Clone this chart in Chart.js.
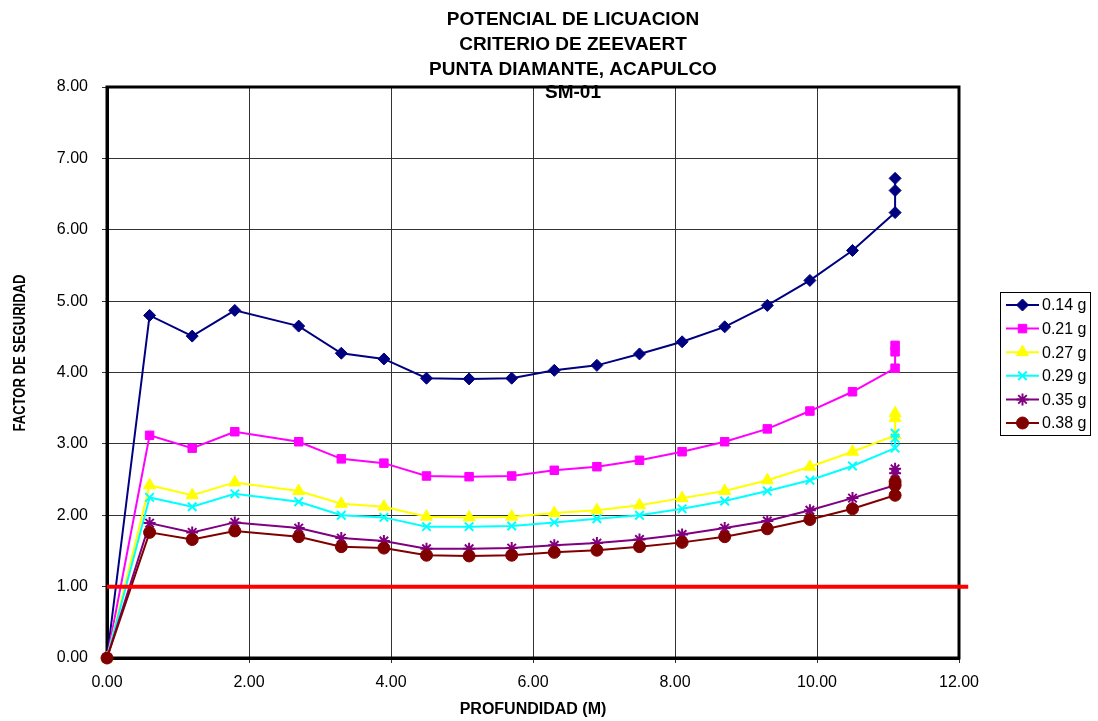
<!DOCTYPE html>
<html>
<head>
<meta charset="utf-8">
<script src="https://cdn.jsdelivr.net/npm/chart.js@4/dist/chart.umd.min.js"></script>
<style>
  html, body { margin: 0; padding: 0; background: #fff; }
  #wrap { width: 1098px; height: 721px; }
</style>
</head>
<body>
<div id="wrap"><canvas id="chart" width="1098" height="721"></canvas></div>
<script>
  // profundidad (m); three readings at the last depth
  var depth = [0, 0.6, 1.2, 1.8, 2.7, 3.3, 3.9, 4.5, 5.1, 5.7, 6.3, 6.9, 7.5, 8.1, 8.7, 9.3, 9.9, 10.5, 11.1, 11.1, 11.1];

  var fs014 = [0, 4.80, 4.51, 4.87, 4.65, 4.27, 4.19, 3.92, 3.91, 3.92, 4.03, 4.10, 4.26, 4.43, 4.64, 4.94, 5.29, 5.71, 6.24, 6.55, 6.72];
  var fs021 = [0, 3.12, 2.94, 3.17, 3.03, 2.79, 2.73, 2.55, 2.54, 2.55, 2.63, 2.68, 2.77, 2.89, 3.03, 3.21, 3.46, 3.73, 4.06, 4.29, 4.38];
  var fs027 = [0, 2.42, 2.28, 2.46, 2.34, 2.16, 2.12, 1.98, 1.97, 1.98, 2.03, 2.07, 2.14, 2.24, 2.34, 2.49, 2.68, 2.89, 3.12, 3.36, 3.43];
  var fs029 = [0, 2.25, 2.12, 2.30, 2.19, 2.00, 1.97, 1.84, 1.84, 1.85, 1.90, 1.95, 2.00, 2.09, 2.20, 2.34, 2.49, 2.69, 2.94, 3.08, 3.15];
  var fs035 = [0, 1.89, 1.76, 1.90, 1.82, 1.68, 1.64, 1.53, 1.53, 1.54, 1.58, 1.61, 1.66, 1.73, 1.82, 1.92, 2.07, 2.24, 2.42, 2.59, 2.65];
  var fs038 = [0, 1.76, 1.66, 1.78, 1.70, 1.56, 1.54, 1.44, 1.43, 1.44, 1.48, 1.51, 1.56, 1.62, 1.70, 1.81, 1.94, 2.09, 2.28, 2.42, 2.47];

  var seriesLabels = ["0.14 g", "0.21 g", "0.27 g", "0.29 g", "0.35 g", "0.38 g"];
  var seriesValues = [fs014, fs021, fs027, fs029, fs035, fs038];
  var seriesColors = ["#000080", "#ff00ff", "#ffff00", "#00ffff", "#800080", "#800000"];
  var seriesMarkers = ["rectRot", "rect", "triangle", "crossRot", "star", "circle"];
  var seriesRadius = [6, 6, 7, 6, 6, 6];

  // linea de referencia FS = 1
  var limitX = [0, 12.13];
  var limitY = [1, 1];

  var titleLines = ["POTENCIAL DE LICUACION", "CRITERIO DE ZEEVAERT", "PUNTA DIAMANTE, ACAPULCO", "SM-01"];
  var FONT = "'Liberation Sans', Arial, sans-serif";

  function toPoints(xs, ys) {
    return xs.map(function (x, i) { return { x: x, y: ys[i] }; });
  }

  function thinMarker(style) { return style === "crossRot" || style === "star"; }

  var datasets = seriesValues.map(function (vals, i) {
    return {
      label: seriesLabels[i],
      data: toPoints(depth, vals),
      borderColor: seriesColors[i],
      backgroundColor: seriesColors[i],
      borderWidth: 2,
      pointStyle: seriesMarkers[i],
      pointRadius: seriesRadius[i],
      pointBorderWidth: thinMarker(seriesMarkers[i]) ? 2 : 1,
      pointBorderColor: seriesColors[i],
      tension: 0,
      clip: false,
      order: 10 - i
    };
  });

  datasets.push({
    label: "FS = 1",
    data: toPoints(limitX, limitY),
    borderColor: "#ff0000",
    borderWidth: 4,
    pointRadius: 0,
    tension: 0,
    clip: false,
    order: 0
  });

  function drawMarker(ctx, style, x, y, r, color) {
    if (Chart.helpers && Chart.helpers.drawPoint) {
      ctx.save();
      ctx.fillStyle = color;
      ctx.strokeStyle = color;
      ctx.lineWidth = thinMarker(style) ? 2 : 1;
      Chart.helpers.drawPoint(ctx, { pointStyle: style, radius: r, rotation: 0, borderWidth: ctx.lineWidth }, x, y);
      ctx.restore();
    }
  }

  var framePlugin = {
    id: "frame",
    beforeDatasetsDraw: function (chart) {
      var a = chart.chartArea, ctx = chart.ctx;
      ctx.save();
      ctx.strokeStyle = "#000";
      ctx.lineWidth = 3;
      ctx.strokeRect(a.left, a.top, a.right - a.left, a.bottom - a.top);
      ctx.restore();
    },
    afterDraw: function (chart) {
      var ctx = chart.ctx;
      ctx.save();
      ctx.fillStyle = "#000";
      ctx.textAlign = "center";
      ctx.textBaseline = "middle";
      ctx.font = "bold 19px " + FONT;
      var ty = [20, 45, 70, 93];
      titleLines.forEach(function (t, i) { ctx.fillText(t, 573, ty[i]); });

      ctx.font = "bold 16px " + FONT;
      ctx.fillText("PROFUNDIDAD (M)", 533, 710);

      // eje Y
      var yt = "FACTOR DE SEGURIDAD";
      ctx.font = "bold 17px " + FONT;
      var w = ctx.measureText(yt).width;
      ctx.translate(20, 353);
      ctx.rotate(-Math.PI / 2);
      ctx.scale(157 / w, 1);
      ctx.fillText(yt, 0, 0);
      ctx.restore();

      // leyenda
      ctx.save();
      ctx.strokeStyle = "#000";
      ctx.lineWidth = 1;
      ctx.fillStyle = "#fff";
      ctx.fillRect(1000.5, 292.5, 90, 143);
      ctx.strokeRect(1000.5, 292.5, 90, 143);
      ctx.font = "16px " + FONT;
      ctx.textAlign = "left";
      ctx.textBaseline = "middle";
      seriesLabels.forEach(function (lab, i) {
        var y = 305 + i * 23.6;
        ctx.strokeStyle = seriesColors[i];
        ctx.lineWidth = 2;
        ctx.beginPath();
        ctx.moveTo(1006, y);
        ctx.lineTo(1039, y);
        ctx.stroke();
        drawMarker(ctx, seriesMarkers[i], 1022.5, y, seriesRadius[i], seriesColors[i]);
        ctx.fillStyle = "#000";
        ctx.fillText(lab, 1042, y + 1);
      });
      ctx.restore();
    }
  };

  new Chart(document.getElementById("chart"), {
    type: "line",
    data: { datasets: datasets },
    plugins: [framePlugin],
    options: {
      responsive: false,
      animation: false,
      events: [],
      layout: { padding: { top: 87, right: 139, left: 0, bottom: 0 } },
      plugins: { legend: { display: false }, title: { display: false }, tooltip: { enabled: false } },
      scales: {
        x: {
          type: "linear",
          min: 0,
          max: 12,
          afterFit: function (s) { s.height = 63; },
          ticks: {
            stepSize: 2,
            padding: 10,
            color: "#000",
            font: { family: FONT, size: 16 },
            maxRotation: 0,
            callback: function (v) { return v.toFixed(2); }
          },
          grid: { color: "#333", lineWidth: 1, tickLength: 5 },
          border: { color: "#000", width: 3 }
        },
        y: {
          type: "linear",
          min: 0,
          max: 8,
          afterFit: function (s) { s.width = 107; },
          ticks: {
            stepSize: 1,
            padding: 14,
            color: "#000",
            font: { family: FONT, size: 16 },
            callback: function (v) { return v.toFixed(2); }
          },
          grid: { color: "#333", lineWidth: 1, tickLength: 5 },
          border: { color: "#000", width: 3 }
        }
      }
    }
  });
</script>
</body>
</html>
